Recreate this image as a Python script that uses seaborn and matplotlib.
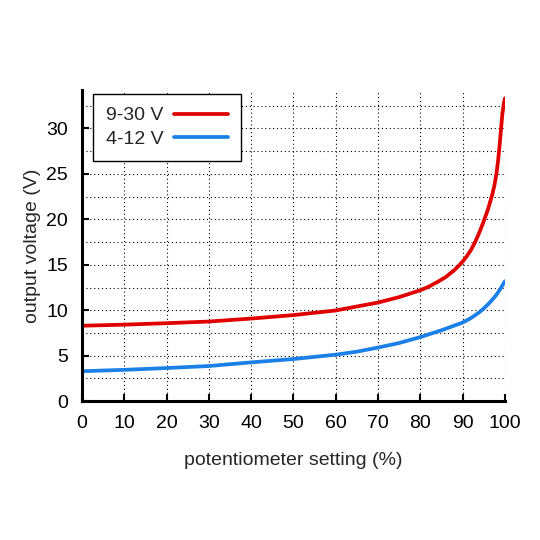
import numpy as np
import matplotlib
matplotlib.use("Agg")
import matplotlib.pyplot as plt
import seaborn as sns
import pandas as pd
from matplotlib.ticker import MultipleLocator

# curve readings (potentiometer setting %, output voltage V)
x_930 = [0, 10, 20, 30, 40, 50, 60, 70, 75, 80, 82, 84, 86, 88, 89, 90, 91, 92, 93,
         94, 95, 96, 97, 97.5, 98, 98.4, 98.8, 99.1, 99.4, 99.7, 100]
v_930 = [8.3, 8.42, 8.58, 8.76, 9.09, 9.47, 9.98, 10.85, 11.45, 12.2, 12.6, 13.1,
         13.65, 14.4, 14.85, 15.35, 15.95, 16.65, 17.55, 18.6, 19.8, 21.1, 22.7,
         23.7, 25.0, 26.5, 28.4, 30.0, 31.6, 32.6, 33.3]
x_412 = [0, 10, 20, 30, 40, 50, 60, 65, 70, 75, 80, 85, 90, 92, 94, 95, 96, 97,
         98, 99, 100]
v_412 = [3.3, 3.45, 3.65, 3.87, 4.27, 4.64, 5.12, 5.45, 5.9, 6.4, 7.05, 7.8,
         8.65, 9.15, 9.8, 10.2, 10.65, 11.15, 11.7, 12.4, 13.2]

series_names = ["9-30 V", "4-12 V"]
series_colors = ["#e00000", "#1a80e6"]

df = pd.concat([
    pd.DataFrame({"setting": x_930, "voltage": v_930, "range": series_names[0]}),
    pd.DataFrame({"setting": x_412, "voltage": v_412, "range": series_names[1]}),
])

sns.set_style("white")
plt.rcParams["font.family"] = ["Liberation Sans", "DejaVu Sans"]

fig = plt.figure(figsize=(5.4, 5.4), dpi=100)
ax = fig.add_axes([0.152, 0.257, 0.783, 0.576])

sns.lineplot(data=df, x="setting", y="voltage", hue="range",
             palette=dict(zip(series_names, series_colors)),
             linewidth=2.7, ax=ax, sort=False, estimator=None)

ax.set_xlim(0, 100)
ax.set_ylim(0, 34.2)
ax.xaxis.set_major_locator(MultipleLocator(10))
ax.yaxis.set_major_locator(MultipleLocator(5))
ax.yaxis.set_minor_locator(MultipleLocator(2.5))

ax.grid(True, which="both", color="black", linestyle=(0, (1, 2.5)), linewidth=0.8)
for s in ["top", "right"]:
    ax.spines[s].set_visible(False)
for s in ["left", "bottom"]:
    ax.spines[s].set_linewidth(2.2)
    ax.spines[s].set_color("black")

ax.tick_params(axis="both", which="major", direction="in", length=5, width=1.5,
               labelsize=14, colors="black", pad=10)
ax.tick_params(axis="y", which="minor", direction="in", length=5, width=1.5)
ax.tick_params(axis="x", bottom=True)
ax.tick_params(axis="y", left=True)

ax.set_xlabel("potentiometer setting (%)", fontsize=14, labelpad=14)
ax.set_ylabel("output voltage (V)", fontsize=14, labelpad=4)

leg = ax.legend(loc="upper left", bbox_to_anchor=(0.026, 0.987), borderaxespad=0,
                markerfirst=False, fontsize=14, frameon=True, fancybox=False,
                handlelength=2.8, handletextpad=0.55, borderpad=0.65,
                labelspacing=0.3, title=None)
leg.get_frame().set_edgecolor("black")
leg.get_frame().set_linewidth(1.0)
leg.get_frame().set_alpha(1)

fig.savefig("out.png", dpi=100)
